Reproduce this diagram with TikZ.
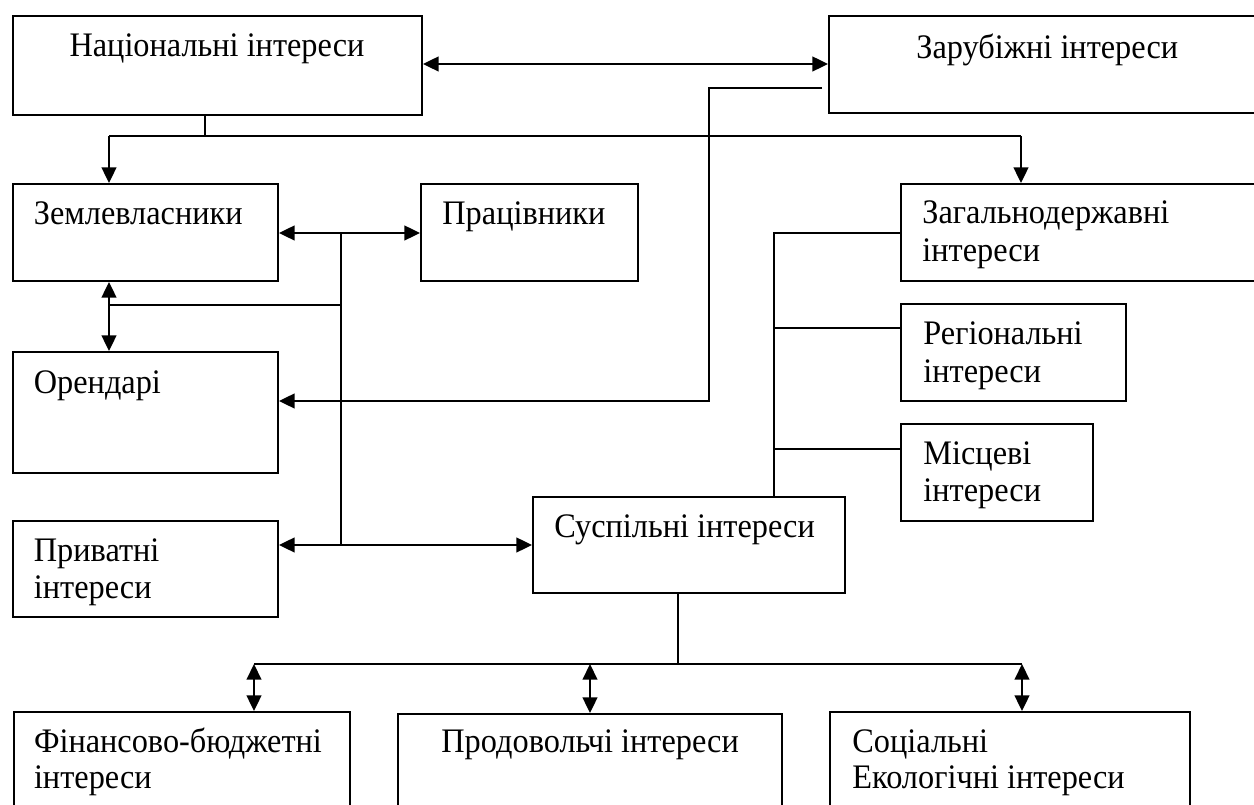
\documentclass[tikz,border=0pt]{standalone}
\usepackage{fontspec}
\setmainfont{Liberation Serif}[FakeStretch=0.94]
\usetikzlibrary{arrows.meta,fit}
\begin{document}
\begin{tikzpicture}[x=0.48pt,y=-0.48pt,
  box/.style={draw, line width=0.9pt, inner sep=0pt, rectangle},
  lbl/.style={inner sep=0pt, anchor=base west, font=\fontsize{16.5}{19}\selectfont},
  link/.style={line width=0.9pt},
  tip/.style={line width=1.1pt, -{Triangle[length=7.5pt,width=7pt]}},
  both/.style={line width=1.1pt, {Triangle[length=7.5pt,width=7pt]}-{Triangle[length=7.5pt,width=7pt]}}]
\useasboundingbox (0,0) rectangle (1254,805);
\clip (0,0) rectangle (1254,805);

% boxes
\node[box, fit={(13,16) (422,115)}] (nat) {};
\node[box, fit={(829,16) (1270,113)}] (zar) {};
\node[box, fit={(13,184) (278,281)}] (zem) {};
\node[box, fit={(421,184) (638,281)}] (prac) {};
\node[box, fit={(901,184) (1270,281)}] (zag) {};
\node[box, fit={(13,352) (278,473)}] (oren) {};
\node[box, fit={(13,521) (278,617)}] (priv) {};
\node[box, fit={(533,497) (845,593)}] (susp) {};
\node[box, fit={(901,304) (1126,401)}] (reg) {};
\node[box, fit={(901,424) (1093,521)}] (mis) {};
\node[box, fit={(14,712) (350,830)}] (fin) {};
\node[box, fit={(398,714) (782,830)}] (prod) {};
\node[box, fit={(830,712) (1190,830)}] (soc) {};

% texts
\node[lbl, anchor=base] (nat-t) at (217,57) {Національні інтереси};
\node[lbl] (zar-t) at (916,59) {Зарубіжні інтереси};
\node[lbl] (zem-t) at (33.5,225) {Землевласники};
\node[lbl] (prac-t) at (442,225) {Працівники};
\node[lbl] (zag-t1) at (922,224) {Загальнодержавні};
\node[lbl] (zag-t2) at (922,262) {інтереси};
\node[lbl] (oren-t) at (33.5,394) {Орендарі};
\node[lbl] (priv-t1) at (33.5,562) {Приватні};
\node[lbl] (priv-t2) at (33.5,599) {інтереси};
\node[lbl] (susp-t) at (554,538) {Суспільні інтереси};
\node[lbl] (reg-t1) at (923,345) {Регіональні};
\node[lbl] (reg-t2) at (923,383) {інтереси};
\node[lbl] (mis-t1) at (923,465) {Місцеві};
\node[lbl] (mis-t2) at (923,502) {інтереси};
\node[lbl] (fin-t1) at (33.6,753) {Фінансово-бюджетні};
\node[lbl] (fin-t2) at (33.6,789) {інтереси};
\node[lbl] (prod-t) at (441,753) {Продовольчі інтереси};
\node[lbl] (soc-t1) at (852,753) {Соціальні};
\node[lbl] (soc-t2) at (852,789) {Екологічні інтереси};

% national / foreign
\coordinate (yA) at (0,64);
\draw[both] (nat.east |- yA) -- (zar.west |- yA);

% national down to landowners and state level
\coordinate (j1) at (205,136);
\coordinate (hL) at (109,136);
\coordinate (hR) at (1021,136);
\draw[link] (nat.south -| j1) -- (j1);
\draw[link] (hL) -- (hR);
\draw[tip] (hL) -- (hL |- zem.north);
\draw[tip] (hR) -- (hR |- zag.north);

% landowners, workers, tenants, private, public
\coordinate (b1) at (341,233);
\coordinate (b2) at (341,545);
\coordinate (b3) at (341,305);
\coordinate (b4) at (109,305);
\draw[both] (zem.east |- b1) -- (prac.west |- b1);
\draw[link] (b1) -- (b2);
\draw[both] (priv.east |- b2) -- (susp.west |- b2);
\draw[link] (b3) -- (b4);
\draw[both] (b4 |- zem.south) -- (b4 |- oren.north);

% foreign to tenants
\coordinate (z1) at (822,88);
\coordinate (z2) at (709,88);
\coordinate (z3) at (709,401);
\draw[tip] (z1) -- (z2) -- (z3) -- (oren.east |- z3);

% state, regional, local to public
\coordinate (t1) at (774,233);
\coordinate (t2) at (774,328);
\coordinate (t3) at (774,449);
\draw[link] (zag.west |- t1) -- (t1) -- (t1 |- susp.north);
\draw[link] (t2) -- (reg.west |- t2);
\draw[link] (t3) -- (mis.west |- t3);

% public to bottom row
\coordinate (s1) at (678,664);
\coordinate (sL) at (254,664);
\coordinate (sM) at (590,664);
\coordinate (sR) at (1022,664);
\draw[link] (susp.south -| s1) -- (s1);
\draw[link] (sL) -- (sR);
\draw[both] (sL) -- (sL |- fin.north);
\draw[both] (sM) -- (sM |- prod.north);
\draw[both] (sR) -- (sR |- soc.north);
\end{tikzpicture}
\end{document}
